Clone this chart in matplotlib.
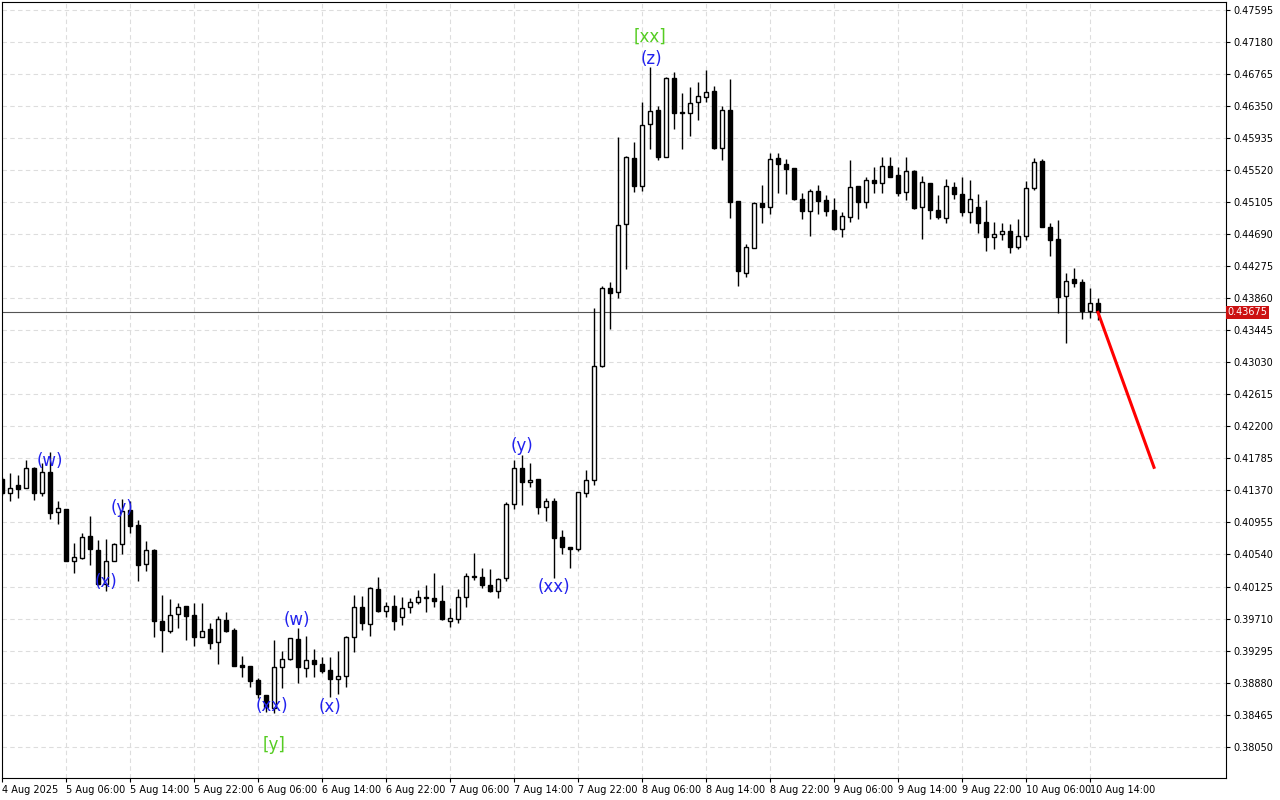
import numpy as np
import matplotlib.pyplot as plt

# hourly candles, 4 Aug 22:00 -> 10 Aug 15:00 (prices)
opens = [0.41517, 0.41341, 0.41439, 0.41400, 0.41659, 0.41341, 0.41608, 0.41091, 0.41129, 0.40456,
         0.40495, 0.40780, 0.40598, 0.40158, 0.40456, 0.40676, 0.41117, 0.40922, 0.40417, 0.40598,
         0.39679, 0.39550, 0.39770, 0.39873, 0.39757, 0.39472, 0.39576, 0.39408, 0.39692, 0.39563,
         0.39110, 0.39097, 0.38915, 0.38721, 0.38552, 0.39084, 0.39188, 0.39446, 0.39071, 0.39175,
         0.39123, 0.39045, 0.38928, 0.38967, 0.39472, 0.39860, 0.39641, 0.40094, 0.39809, 0.39873,
         0.39731, 0.39860, 0.39925, 0.39990, 0.39977, 0.39938, 0.39679, 0.39706, 0.39990, 0.40263,
         0.40250, 0.40145, 0.40067, 0.40237, 0.41194, 0.41659, 0.41478, 0.41517, 0.41155, 0.41233,
         0.40767, 0.40637, 0.40611, 0.41341, 0.41504, 0.42980, 0.43990, 0.43939, 0.44819, 0.45674,
         0.45311, 0.46114, 0.46293, 0.45687, 0.46710, 0.46257, 0.46257, 0.46399, 0.46464, 0.46542,
         0.45808, 0.46293, 0.45117, 0.44185, 0.44509, 0.45091, 0.45040, 0.45674, 0.45596, 0.45545,
         0.45143, 0.44987, 0.45247, 0.45130, 0.45000, 0.44755, 0.44910, 0.45311, 0.45104, 0.45389,
         0.45350, 0.45571, 0.45454, 0.45234, 0.45506, 0.45040, 0.45350, 0.45000, 0.44897, 0.45298,
         0.45208, 0.44975, 0.45040, 0.44845, 0.44651, 0.44690, 0.44729, 0.44522, 0.44664, 0.45285,
         0.45635, 0.44781, 0.44626, 0.43887, 0.44107, 0.44068, 0.43693, 0.43796]
highs = [0.41543, 0.41595, 0.41569, 0.41763, 0.41672, 0.41724, 0.41867, 0.41233, 0.41129, 0.40689,
         0.40819, 0.41039, 0.40728, 0.40741, 0.40689, 0.41259, 0.41233, 0.40987, 0.40715, 0.40611,
         0.40016, 0.39964, 0.39912, 0.39873, 0.39912, 0.39912, 0.39654, 0.39744, 0.39796, 0.39589,
         0.39226, 0.39097, 0.38941, 0.38721, 0.39433, 0.39291, 0.39459, 0.39589, 0.39485, 0.39317,
         0.39213, 0.39213, 0.39291, 0.39485, 0.40016, 0.40003, 0.40120, 0.40250, 0.39925, 0.40016,
         0.39990, 0.39977, 0.40081, 0.40145, 0.40301, 0.40145, 0.39847, 0.40094, 0.40301, 0.40560,
         0.40366, 0.40353, 0.40237, 0.41220, 0.41763, 0.41828, 0.41724, 0.41517, 0.41272, 0.41272,
         0.40858, 0.40637, 0.41341, 0.41634, 0.43731, 0.44016, 0.44068, 0.45945, 0.45700, 0.45881,
         0.46399, 0.46852, 0.46344, 0.46723, 0.46788, 0.46516, 0.46593, 0.46658, 0.46814, 0.46606,
         0.46344, 0.46697, 0.45117, 0.44560, 0.45104, 0.45324, 0.45744, 0.45744, 0.45661, 0.45545,
         0.45221, 0.45273, 0.45324, 0.45195, 0.45156, 0.44975, 0.45648, 0.45311, 0.45428, 0.45558,
         0.45687, 0.45687, 0.45558, 0.45687, 0.45519, 0.45441, 0.45350, 0.45195, 0.45402, 0.45363,
         0.45428, 0.45389, 0.45208, 0.45130, 0.44845, 0.44832, 0.44819, 0.44884, 0.45376, 0.45674,
         0.45661, 0.44832, 0.44871, 0.44185, 0.44249, 0.44107, 0.43990, 0.43861]
lows = [0.41316, 0.41233, 0.41271, 0.41400, 0.41246, 0.41303, 0.41000, 0.40935, 0.40456, 0.40301,
        0.40482, 0.40404, 0.40145, 0.40067, 0.40456, 0.40547, 0.40819, 0.40197, 0.40327, 0.39472,
        0.39278, 0.39524, 0.39589, 0.39433, 0.39351, 0.39472, 0.39317, 0.39123, 0.39537, 0.39097,
        0.38954, 0.38824, 0.38682, 0.38501, 0.38488, 0.38811, 0.39175, 0.38876, 0.38954, 0.38954,
        0.39006, 0.38695, 0.38734, 0.38824, 0.39278, 0.39563, 0.39485, 0.39796, 0.39731, 0.39563,
        0.39628, 0.39783, 0.39899, 0.39796, 0.39860, 0.39692, 0.39602, 0.39654, 0.39860, 0.40211,
        0.40107, 0.40054, 0.39977, 0.40197, 0.41129, 0.41181, 0.41413, 0.41065, 0.40974, 0.40237,
        0.40547, 0.40366, 0.40585, 0.41284, 0.41439, 0.42968, 0.43459, 0.43861, 0.44237, 0.45234,
        0.45247, 0.45795, 0.45648, 0.45687, 0.46050, 0.45795, 0.45964, 0.46166, 0.46399, 0.45795,
        0.45648, 0.44897, 0.44016, 0.44133, 0.44509, 0.44832, 0.44949, 0.45221, 0.45208, 0.45130,
        0.44884, 0.44664, 0.44949, 0.44923, 0.44742, 0.44651, 0.44845, 0.44884, 0.45026, 0.45221,
        0.45221, 0.45428, 0.45182, 0.45130, 0.45013, 0.44625, 0.44884, 0.44884, 0.44832, 0.45143,
        0.44923, 0.44832, 0.44703, 0.44470, 0.44496, 0.44613, 0.44444, 0.44496, 0.44613, 0.45260,
        0.44781, 0.44402, 0.43667, 0.43278, 0.44003, 0.43589, 0.43602, 0.43576]
closes = [0.41341, 0.41400, 0.41387, 0.41659, 0.41341, 0.41608, 0.41078, 0.41142, 0.40456, 0.40508,
          0.40767, 0.40611, 0.40158, 0.40456, 0.40676, 0.41104, 0.40909, 0.40404, 0.40598, 0.39679,
          0.39563, 0.39757, 0.39860, 0.39744, 0.39472, 0.39550, 0.39395, 0.39706, 0.39550, 0.39097,
          0.39084, 0.38902, 0.38734, 0.38565, 0.39084, 0.39188, 0.39459, 0.39084, 0.39175, 0.39123,
          0.39032, 0.38928, 0.38967, 0.39472, 0.39860, 0.39654, 0.40107, 0.39809, 0.39873, 0.39679,
          0.39847, 0.39925, 0.39990, 0.39977, 0.39938, 0.39706, 0.39718, 0.39990, 0.40263, 0.40250,
          0.40145, 0.40067, 0.40224, 0.41194, 0.41659, 0.41478, 0.41504, 0.41155, 0.41233, 0.40754,
          0.40637, 0.40611, 0.41341, 0.41504, 0.42980, 0.43990, 0.43926, 0.44806, 0.45687, 0.45311,
          0.46101, 0.46280, 0.45687, 0.46710, 0.46257, 0.46270, 0.46386, 0.46477, 0.46529, 0.45808,
          0.46293, 0.45104, 0.44211, 0.44522, 0.45091, 0.45040, 0.45661, 0.45596, 0.45532, 0.45143,
          0.44987, 0.45247, 0.45117, 0.44987, 0.44755, 0.44923, 0.45298, 0.45104, 0.45389, 0.45350,
          0.45571, 0.45428, 0.45221, 0.45506, 0.45026, 0.45363, 0.45000, 0.44910, 0.45311, 0.45208,
          0.44975, 0.45143, 0.44832, 0.44651, 0.44690, 0.44729, 0.44522, 0.44664, 0.45285, 0.45622,
          0.44781, 0.44613, 0.43874, 0.44081, 0.44055, 0.43693, 0.43796, 0.43675]

current_price = 0.43675
forecast_x = [137, 144]
forecast_y = [0.43675, 0.41669]

x_labels = ["4 Aug 2025", "5 Aug 06:00", "5 Aug 14:00", "5 Aug 22:00", "6 Aug 06:00",
            "6 Aug 14:00", "6 Aug 22:00", "7 Aug 06:00", "7 Aug 14:00", "7 Aug 22:00",
            "8 Aug 06:00", "8 Aug 14:00", "8 Aug 22:00", "9 Aug 06:00", "9 Aug 14:00",
            "9 Aug 22:00", "10 Aug 06:00", "10 Aug 14:00"]
y_ticks = [0.47595 - 0.00415 * k for k in range(24)]

# wave labels: text, candle index, price, colour
wave_text = ["(w)", "(y)", "(x)", "(xx)", "[y]", "(w)", "(x)", "(y)", "(xx)", "(z)", "[xx]"]
wave_x = [6, 15, 13, 33.7, 34, 36.9, 41, 65, 69, 81.2, 81]
wave_p = [0.41750, 0.41142, 0.40184, 0.38578, 0.38073, 0.39692, 0.38565, 0.41945, 0.40119, 0.46956, 0.47241]
wave_c = ["b", "b", "b", "b", "g", "b", "b", "b", "b", "b", "g"]

BLUE = "#2222ee"
GREEN = "#55cc22"

fig = plt.figure(figsize=(12.8, 8.0), dpi=100)
ax = fig.add_axes([2 / 1280, 22 / 800, 1224 / 1280, 776 / 800])

idx = np.arange(len(opens))
o = np.array(opens); h = np.array(highs); l = np.array(lows); c = np.array(closes)
up = c >= o

ax.vlines(idx, l, h, color="black", linewidth=1, zorder=2)
ax.bar(idx, np.abs(c - o) + 0.00003, bottom=np.minimum(o, c), width=0.62,
       color=np.where(up, "white", "black"), edgecolor="black", linewidth=1, zorder=3)

ax.plot(forecast_x, forecast_y, color="red", linewidth=2.2, zorder=4)
ax.axhline(current_price, color="#555555", linewidth=0.8, zorder=1)

for t, xi, p, col in zip(wave_text, wave_x, wave_p, wave_c):
    ax.text(xi, p, t, color=BLUE if col == "b" else GREEN, fontsize=12,
            ha="center", va="center", zorder=5)

ax.set_xlim(0, 153)
ax.set_ylim(0.37646, 0.47694)
ax.set_xticks(np.arange(0, 137, 8))
ax.set_xticklabels(x_labels, fontsize=7, ha="left")
ax.set_yticks(y_ticks)
ax.set_yticklabels([f"{v:.5f}" for v in y_ticks], fontsize=7)
ax.yaxis.tick_right()
ax.tick_params(axis="both", length=3, pad=2)
ax.grid(True, color="#dddddd", linestyle=(0, (4, 3)), linewidth=0.8)
ax.set_axisbelow(True)
for s in ax.spines.values():
    s.set_color("black")

ax.text(1.0015, current_price, f"{current_price:.5f}", transform=ax.get_yaxis_transform(),
        fontsize=7, color="white", va="center", ha="left",
        bbox=dict(boxstyle="square,pad=0.15", fc="#cc1111", ec="none"))

fig.savefig("out.png", dpi=100)
